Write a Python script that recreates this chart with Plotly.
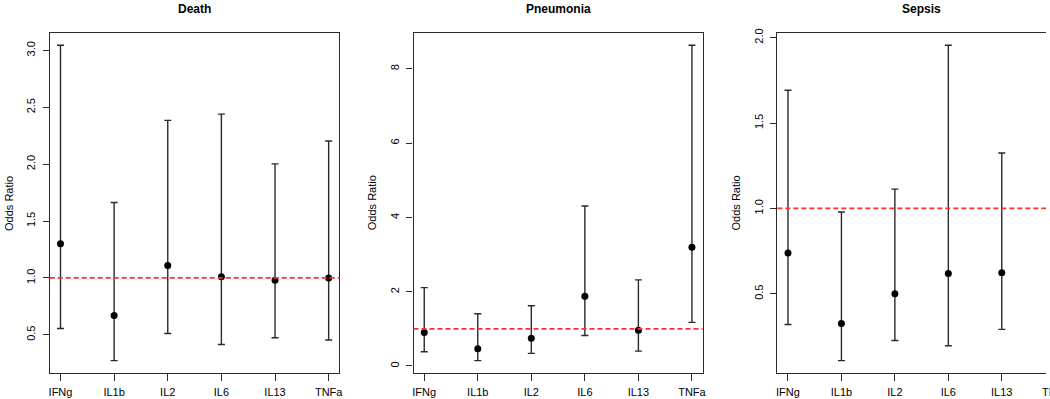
import plotly.graph_objects as go

categories = ["IFNg", "IL1b", "IL2", "IL6", "IL13", "TNFa"]

death_or = [1.30, 0.67, 1.11, 1.01, 0.98, 1.00]
death_lo = [0.555, 0.273, 0.511, 0.415, 0.474, 0.454]
death_hi = [3.045, 1.663, 2.385, 2.44, 2.003, 2.204]

pneu_or = [0.90, 0.464, 0.748, 1.88, 0.961, 3.196]
pneu_lo = [0.384, 0.144, 0.339, 0.82, 0.40, 1.175]
pneu_hi = [2.11, 1.407, 1.621, 4.31, 2.32, 8.636]

# Sepsis: TNFa falls outside the visible picture
sepsis_cats = ["IFNg", "IL1b", "IL2", "IL6", "IL13"]
sepsis_or = [0.739, 0.327, 0.501, 0.619, 0.623]
sepsis_lo = [0.321, 0.109, 0.227, 0.196, 0.292]
sepsis_hi = [1.692, 0.979, 1.113, 1.955, 1.325]

titles = ["Death", "Pneumonia", "Sepsis"]
y_ticks = [[0.5, 1.0, 1.5, 2.0, 2.5, 3.0], [0, 2, 4, 6, 8], [0.5, 1.0, 1.5, 2.0]]
y_fmt = [".1f", "d", ".1f"]

W, H = 1050, 399
FONT = "Liberation Sans, Arial, Helvetica, sans-serif"
LINE = "#2a2a2a"

panels = [
    (categories, death_or, death_lo, death_hi),
    (categories, pneu_or, pneu_lo, pneu_hi),
    (sepsis_cats, sepsis_or, sepsis_lo, sepsis_hi),
]
# pixel x-domains of the plot boxes
xdoms = [(49, 340), (414.5, 705), (780, 1050)]
ytop, ybot = 29, 373
ydom = [(H - ybot) / H, (H - ytop) / H]

fig = go.Figure()
annotations = []
for i, (cats, orr, lo, hi) in enumerate(panels):
    sfx = "" if i == 0 else str(i + 1)
    xs = [categories.index(c) + 1 for c in cats]
    fig.add_trace(go.Scatter(
        x=xs, y=orr, mode="markers",
        marker=dict(color="black", size=7),
        error_y=dict(type="data", symmetric=False,
                     array=[h - o for h, o in zip(hi, orr)],
                     arrayminus=[o - l for o, l in zip(orr, lo)],
                     color=LINE, thickness=1.4, width=3.5),
        xaxis=f"x{sfx}", yaxis=f"y{sfx}", showlegend=False, cliponaxis=False,
    ))
    allv = lo + hi
    vmin, vmax = min(allv), max(allv)
    pad = 0.04 * (vmax - vmin)
    yr = [vmin - pad, vmax + pad]
    x0, x1 = xdoms[i]
    if i < 2:
        xr = [0.8, 6.2]
    else:
        # full R range would be 0.8..6.2 over 290 px; the picture is cut at 1050
        full_w = 290.0
        xr = [0.8, 0.8 + 5.4 * (x1 - x0) / full_w]
    xa = dict(domain=[x0 / W, x1 / W], range=xr, tickvals=list(range(1, 7)),
              ticktext=categories, showgrid=False, zeroline=False,
              showline=True, linecolor=LINE, linewidth=1.2, mirror=True,
              ticks="outside", ticklen=7, tickcolor=LINE, tickwidth=1.2,
              ticklabelstandoff=1,
              tickfont=dict(family=FONT, size=11, color="black"),
              anchor=f"y{sfx}")
    ya = dict(domain=ydom, range=yr, tickvals=y_ticks[i], tickformat=y_fmt[i],
              showgrid=False,
              zeroline=False, showline=True, linecolor=LINE, linewidth=1.2,
              mirror=(i < 2), ticks="outside", ticklen=6, tickcolor=LINE,
              tickwidth=1.2, tickangle=-90, ticklabelstandoff=3,
              tickfont=dict(family=FONT, size=11, color="black"),
              anchor=f"x{sfx}")
    fig.update_layout({f"xaxis{sfx}": xa, f"yaxis{sfx}": ya})
    fig.add_shape(type="line", xref=f"x{sfx} domain", yref=f"y{sfx}",
                  x0=0, x1=1, y0=1, y1=1,
                  line=dict(color="#ff3030", width=1.8, dash="5px,3px"))
    cx = (x0 + (x0 + 290.0 if i == 2 else x1)) / 2
    annotations.append(dict(text=f"<b>{titles[i]}</b>", x=cx / W, y=1 - 5.5 / H,
                            xref="paper", yref="paper", showarrow=False,
                            font=dict(family=FONT, size=12, color="black"),
                            xanchor="center", yanchor="middle"))
    ylab_x = [8, 373, 738][i]
    annotations.append(dict(text="Odds Ratio", x=ylab_x / W, y=1 - 201 / H,
                            xref="paper", yref="paper", showarrow=False,
                            textangle=-90,
                            font=dict(family=FONT, size=11, color="black"),
                            xanchor="center", yanchor="middle"))

# partially visible TNFa tick label of the cut-off Sepsis panel
annotations.append(dict(text="TNFa", x=1059.6 / W, y=1 - 391.5 / H,
                        xref="paper", yref="paper", showarrow=False,
                        font=dict(family=FONT, size=11, color="black"),
                        xanchor="center", yanchor="middle"))

fig.update_layout(width=W, height=H, margin=dict(l=0, r=0, t=0, b=0),
                  paper_bgcolor="white", plot_bgcolor="white",
                  annotations=annotations)
fig.write_html("out.html", config={"displayModeBar": False},
               post_script="document.body.style.margin='0';document.body.style.padding='0';document.body.style.overflow='hidden';")
